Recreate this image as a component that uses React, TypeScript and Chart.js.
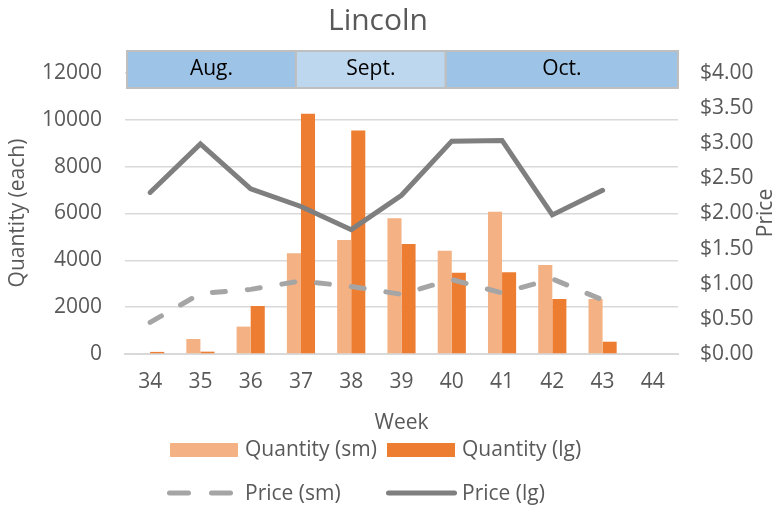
import React, { useEffect, useRef } from 'react';
import { Chart, registerables } from 'chart.js';

Chart.register(...registerables);

const weeks = ['34', '35', '36', '37', '38', '39', '40', '41', '42', '43', '44'];
const qtySm = [30, 640, 1170, 4300, 4870, 5800, 4410, 6080, 3800, 2350, null];
const qtyLg = [90, 100, 2050, 10260, 9540, 4700, 3475, 3490, 2350, 525, null];
const priceSm = [0.45, 0.86, 0.92, 1.04, 0.96, 0.85, 1.06, 0.87, 1.07, 0.77, null];
const priceLg = [2.3, 2.99, 2.35, 2.1, 1.77, 2.26, 3.03, 3.04, 1.98, 2.33, null];

const monthLabels = ['Aug.', 'Sept.', 'Oct.'];
const monthStarts = [-0.46, 2.9, 5.88];
const monthEnd = 10.5;
const monthColors = ['#9DC3E6', '#BDD7EE', '#9DC3E6'];

const qtyMax = 12000;
const qtyStep = 2000;
const priceMax = 4;
const priceStep = 0.5;

const FONT = '"Open Sans", "DejaVu Sans", sans-serif';
const TXT = '#595959';
const C_SM = '#F4B183';
const C_LG = '#ED7D31';
const C_PSM = '#A5A5A5';
const C_PLG = '#7F7F7F';

const decorPlugin = {
  id: 'decor',
  afterDraw(chart: any) {
    const ctx = chart.ctx;
    const xs = chart.scales.x;
    ctx.save();
    // month band
    const bandTop = 51;
    const bandBot = 88;
    for (let i = 0; i < monthLabels.length; i++) {
      const x0 = xs.getPixelForValue(monthStarts[i]);
      const x1 = xs.getPixelForValue(i + 1 < monthStarts.length ? monthStarts[i + 1] : monthEnd);
      ctx.fillStyle = monthColors[i];
      ctx.fillRect(x0, bandTop, x1 - x0, bandBot - bandTop);
      ctx.strokeStyle = '#BFBFBF';
      ctx.lineWidth = 2;
      ctx.strokeRect(x0, bandTop, x1 - x0, bandBot - bandTop);
      ctx.fillStyle = '#000000';
      ctx.font = `21px ${FONT}`;
      ctx.textAlign = 'center';
      ctx.textBaseline = 'middle';
      ctx.fillText(monthLabels[i], (x0 + x1) / 2, (bandTop + bandBot) / 2);
    }
    // title
    ctx.fillStyle = TXT;
    ctx.font = `30px ${FONT}`;
    ctx.textAlign = 'center';
    ctx.textBaseline = 'middle';
    ctx.fillText('Lincoln', 378, 21);
    // axis titles
    ctx.font = `21px ${FONT}`;
    ctx.fillText('Week', (chart.chartArea.left + chart.chartArea.right) / 2, 423);
    ctx.save();
    ctx.translate(18, 213);
    ctx.rotate(-Math.PI / 2);
    ctx.fillText('Quantity (each)', 0, 0);
    ctx.restore();
    ctx.save();
    ctx.translate(766, 213);
    ctx.rotate(-Math.PI / 2);
    ctx.fillText('Price', 0, 0);
    ctx.restore();
    // legend
    ctx.textAlign = 'left';
    ctx.font = `21px ${FONT}`;
    ctx.fillStyle = C_SM;
    ctx.fillRect(170, 443, 68, 14);
    ctx.fillStyle = C_LG;
    ctx.fillRect(387, 443, 68, 14);
    ctx.fillStyle = TXT;
    ctx.fillText('Quantity (sm)', 245, 450);
    ctx.fillText('Quantity (lg)', 462, 450);
    ctx.lineCap = 'round';
    ctx.lineWidth = 5;
    ctx.strokeStyle = C_PSM;
    ctx.beginPath();
    ctx.moveTo(169.5, 493);
    ctx.lineTo(188.5, 493);
    ctx.moveTo(211.5, 493);
    ctx.lineTo(230.5, 493);
    ctx.stroke();
    ctx.strokeStyle = C_PLG;
    ctx.beginPath();
    ctx.moveTo(388.5, 493);
    ctx.lineTo(454.5, 493);
    ctx.stroke();
    ctx.fillStyle = TXT;
    ctx.fillText('Price (sm)', 245, 494);
    ctx.fillText('Price (lg)', 462, 494);
    ctx.restore();
  },
};

export default function App() {
  const ref = useRef<HTMLCanvasElement | null>(null);
  useEffect(() => {
    if (!ref.current) return;
    const chart = new Chart(ref.current, {
      type: 'bar',
      data: {
        labels: weeks,
        datasets: [
          {
            type: 'line',
            label: 'Price (sm)',
            data: priceSm,
            yAxisID: 'y1',
            borderColor: C_PSM,
            borderWidth: 5,
            borderDash: [13, 22],
            borderCapStyle: 'round',
            pointRadius: 0,
            tension: 0,
            order: 1,
          } as any,
          {
            type: 'line',
            label: 'Price (lg)',
            data: priceLg,
            yAxisID: 'y1',
            borderColor: C_PLG,
            borderWidth: 5,
            borderCapStyle: 'round',
            borderJoinStyle: 'miter',
            pointRadius: 0,
            tension: 0,
            order: 0,
          } as any,
          {
            type: 'bar',
            label: 'Quantity (sm)',
            data: qtySm,
            yAxisID: 'y',
            backgroundColor: C_SM,
            categoryPercentage: 0.56,
            barPercentage: 1,
            order: 2,
          },
          {
            type: 'bar',
            label: 'Quantity (lg)',
            data: qtyLg,
            yAxisID: 'y',
            backgroundColor: C_LG,
            categoryPercentage: 0.56,
            barPercentage: 1,
            order: 2,
          },
        ],
      },
      options: {
        responsive: false,
        animation: false,
        layout: { padding: { top: 73, bottom: 0, left: 0, right: 0 } },
        plugins: { legend: { display: false }, title: { display: false }, tooltip: { enabled: false } },
        scales: {
          x: {
            grid: { display: false, drawTicks: false },
            border: { display: true, color: '#D9D9D9', width: 2 },
            ticks: { color: TXT, font: { family: FONT, size: 21 }, padding: 15, maxRotation: 0 },
            afterFit: (s: any) => { s.height = 156; },
          },
          y: {
            position: 'left',
            min: 0,
            max: qtyMax,
            ticks: {
              stepSize: qtyStep,
              color: TXT,
              font: { family: FONT, size: 21 },
              padding: 23,
              callback: (v: any) => String(v),
            },
            grid: { color: '#D9D9D9', lineWidth: 1.5, drawTicks: false },
            border: { display: false },
            afterFit: (s: any) => { s.width = 125; },
          },
          y1: {
            position: 'right',
            min: 0,
            max: priceMax,
            ticks: {
              stepSize: priceStep,
              color: TXT,
              font: { family: FONT, size: 21 },
              padding: 22,
              callback: (v: any) => '$' + Number(v).toFixed(2),
            },
            grid: { display: false, drawTicks: false },
            border: { display: false },
            afterFit: (s: any) => { s.width = 95; },
          },
        },
      },
      plugins: [decorPlugin],
    });
    return () => chart.destroy();
  }, []);
  return (
    <div style={{ position: 'fixed', left: 0, top: 0, width: 773, height: 510, background: '#fff' }}>
      <canvas ref={ref} width={773} height={510} />
    </div>
  );
}
